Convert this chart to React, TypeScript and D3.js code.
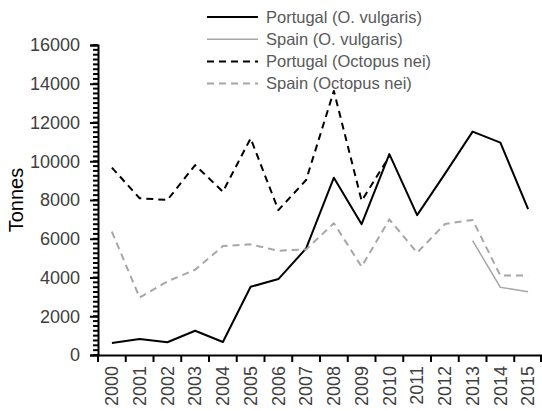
import { useEffect, useRef } from "react";
import * as d3 from "d3";

const width = 542;
const height = 411;
const margin = { top: 45, right: 0, bottom: 56, left: 98 };

const years = [
  "2000", "2001", "2002", "2003", "2004", "2005", "2006", "2007",
  "2008", "2009", "2010", "2011", "2012", "2013", "2014", "2015",
];

// tonnes, null = no data
const portugalVulgaris = [
  620, 830, 660, 1250, 670, 3520, 3920, 5500,
  9150, 6750, 10370, 7220, 9350, 11530, 10960, 7530,
];
const spainVulgaris = [
  null, null, null, null, null, null, null, null,
  null, null, null, null, null, 5900, 3490, 3270,
];
const portugalNei = [
  9670, 8090, 8000, 9800, 8430, 11180, 7480, 9030,
  13630, 7960, 10250, null, null, null, null, null,
];
const spainNei = [
  6370, 2960, 3800, 4400, 5620, 5710, 5380, 5450,
  6800, 4560, 7000, 5280, 6760, 6970, 4100, 4100,
];

const yTicks = [0, 2000, 4000, 6000, 8000, 10000, 12000, 14000, 16000];
const minorStep = 250;

const gray = "#a6a6a6";
const font = "Liberation Sans, Arial, sans-serif";
const series = [
  { name: "Portugal (O. vulgaris)", values: portugalVulgaris, color: "#000", width: 2, dash: "" },
  { name: "Spain (O. vulgaris)", values: spainVulgaris, color: gray, width: 1.5, dash: "" },
  { name: "Portugal (Octopus nei)", values: portugalNei, color: "#000", width: 2, dash: "7,5" },
  { name: "Spain (Octopus nei)", values: spainNei, color: gray, width: 2, dash: "7,5" },
];

const App = () => {
  const xAxisRef = useRef<SVGGElement>(null);
  const yAxisRef = useRef<SVGGElement>(null);

  const x = d3
    .scaleBand()
    .domain(years)
    .range([margin.left, width - margin.right]);
  const y = d3
    .scaleLinear()
    .domain([0, 16000])
    .range([height - margin.bottom, margin.top]);

  const line = d3
    .line<number | null>()
    .defined((d) => d !== null)
    .x((_, i) => (x(years[i]) as number) + x.bandwidth() / 2)
    .y((d) => y(d as number));

  useEffect(() => {
    if (yAxisRef.current) {
      const g = d3.select(yAxisRef.current);
      g.call(
        d3
          .axisLeft(y)
          .tickValues(yTicks)
          .tickSize(8)
          .tickPadding(10)
          .tickFormat(d3.format("d"))
      );
      g.select(".domain").attr("stroke-width", 2).attr("stroke", "#000");
      g.selectAll(".tick line").attr("stroke-width", 2);
      g.selectAll("text")
        .attr("font-family", font)
        .attr("font-size", 18)
        .attr("fill", "#404040");
    }
    if (xAxisRef.current) {
      const g = d3.select(xAxisRef.current);
      g.call(d3.axisBottom(x).tickSize(0).tickPadding(11));
      g.select(".domain").attr("stroke-width", 2).attr("stroke", "#000");
      g.selectAll("text")
        .attr("font-family", font)
        .attr("font-size", 18)
        .attr("fill", "#404040")
        .attr("transform", "rotate(-90)")
        .attr("text-anchor", "end")
        .attr("dy", "0.35em")
        .attr("y", 0)
        .attr("x", -11);
    }
  }, []);

  const minorTicks = d3.range(0, 16001, minorStep);
  const bounds = years.map((d) => x(d) as number).concat([x.range()[1] - 1]);

  const legendX = 207;
  const legendY = 17;
  const legendStep = 22.2;

  return (
    <svg
      width={width}
      height={height}
      style={{ position: "absolute", left: 0, top: 0, background: "#fff" }}
    >
      <rect width={width} height={height} fill="#fff" />
      {series.map((s) => (
        <path
          key={s.name}
          d={line(s.values) ?? ""}
          fill="none"
          stroke={s.color}
          strokeWidth={s.width}
          strokeDasharray={s.dash || undefined}
          strokeLinejoin="round"
        />
      ))}
      {minorTicks.map((v) => (
        <line
          key={v}
          x1={margin.left - 5}
          x2={margin.left}
          y1={y(v)}
          y2={y(v)}
          stroke="#000"
          strokeWidth={2}
        />
      ))}
      {bounds.map((bx, i) => (
        <line
          key={i}
          x1={bx}
          x2={bx}
          y1={height - margin.bottom}
          y2={height - margin.bottom + 7}
          stroke="#000"
          strokeWidth={2}
        />
      ))}
      <g ref={yAxisRef} transform={`translate(${margin.left},0)`} />
      <g ref={xAxisRef} transform={`translate(0,${height - margin.bottom})`} />
      <text
        transform={`translate(23,200) rotate(-90)`}
        textAnchor="middle"
        fontFamily={font}
        fontSize={20}
        fill="#000"
      >
        Tonnes
      </text>
      {series.map((s, i) => (
        <g key={s.name} transform={`translate(${legendX},${legendY + i * legendStep})`}>
          <line
            x1={0}
            x2={51}
            y1={0}
            y2={0}
            stroke={s.color}
            strokeWidth={s.width}
            strokeDasharray={s.dash || undefined}
          />
          <text x={59} y={0} dy="0.35em" fontFamily={font} fontSize={16.5} fill="#595959">
            {s.name}
          </text>
        </g>
      ))}
    </svg>
  );
};

export default App;
